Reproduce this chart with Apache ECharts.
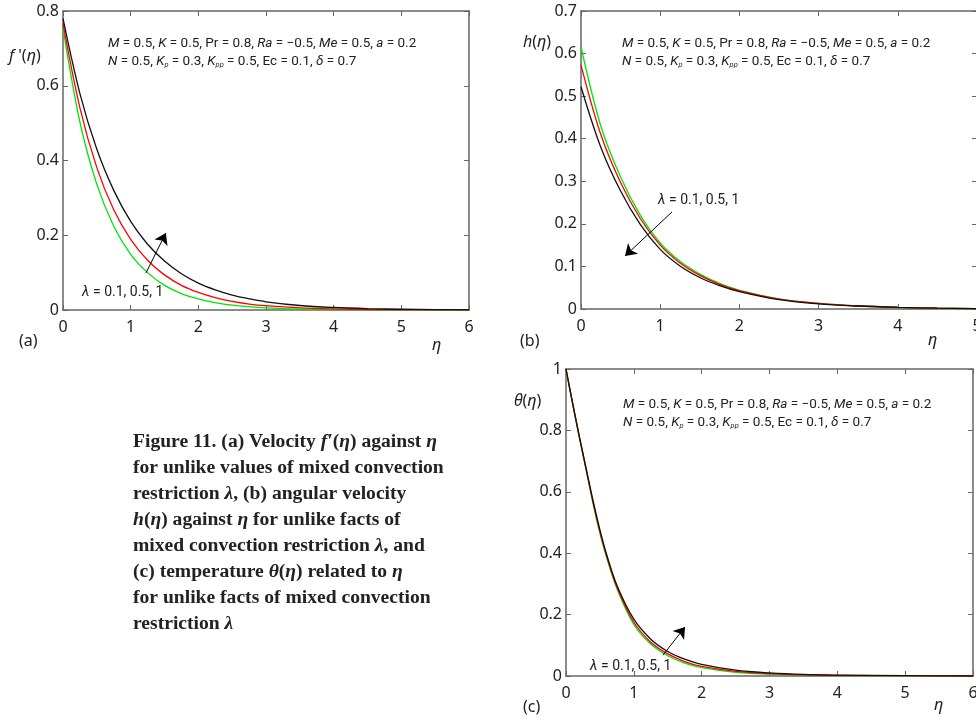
<!DOCTYPE html>
<html>
<head>
<meta charset="utf-8">
<script src="https://cdn.jsdelivr.net/npm/echarts@6/dist/echarts.min.js"></script>
<style>
  html, body { margin: 0; padding: 0; background: #fff; }
  #chart { width: 976px; height: 718px; }
</style>
</head>
<body>
<div id="chart"></div>
<script>
// ---------- DATA ----------
// (a) velocity f'(eta)
const etaA = [0, 0.25, 0.5, 0.75, 1, 1.25, 1.5, 1.75, 2, 2.25, 2.5, 2.75, 3, 3.5, 4, 4.5, 5, 5.5, 6];
const fA_lam01 = [0.754, 0.503, 0.336, 0.224, 0.149, 0.100, 0.066, 0.044, 0.030, 0.020, 0.013, 0.0088, 0.0058, 0.0026, 0.0012, 0.0005, 0.0002, 0.0001, 0];
const fA_lam05 = [0.767, 0.541, 0.381, 0.268, 0.189, 0.133, 0.094, 0.066, 0.047, 0.033, 0.023, 0.016, 0.0115, 0.0057, 0.0028, 0.0014, 0.0007, 0.0003, 0.0002];
const fA_lam1  = [0.780, 0.579, 0.430, 0.320, 0.237, 0.176, 0.131, 0.097, 0.072, 0.054, 0.040, 0.030, 0.022, 0.012, 0.0067, 0.0037, 0.0020, 0.0011, 0.0006];

// (b) angular velocity h(eta)
const etaB = [0, 0.25, 0.5, 0.75, 1, 1.25, 1.5, 1.75, 2, 2.5, 3, 3.5, 4, 4.5, 5];
const hB_lam01 = [0.616, 0.43, 0.31, 0.22, 0.155, 0.112, 0.082, 0.060, 0.044, 0.024, 0.013, 0.007, 0.004, 0.002, 0.001];
const hB_lam05 = [0.573, 0.41, 0.297, 0.212, 0.150, 0.108, 0.079, 0.058, 0.043, 0.023, 0.013, 0.007, 0.004, 0.002, 0.001];
const hB_lam1  = [0.522, 0.38, 0.277, 0.198, 0.140, 0.101, 0.074, 0.055, 0.041, 0.022, 0.012, 0.007, 0.004, 0.002, 0.001];

// (c) temperature theta(eta)
const etaC = [0, 0.1, 0.2, 0.3, 0.4, 0.5, 0.6, 0.75, 1, 1.25, 1.5, 1.75, 2, 2.5, 3, 3.5, 4, 5, 6];
const tC_lam01 = [1, 0.884, 0.773, 0.667, 0.560, 0.465, 0.385, 0.285, 0.168, 0.104, 0.066, 0.042, 0.027, 0.012, 0.006, 0.003, 0.0015, 0.0005, 0];
const tC_lam05 = [1, 0.885, 0.775, 0.670, 0.565, 0.470, 0.390, 0.290, 0.175, 0.110, 0.072, 0.047, 0.031, 0.015, 0.008, 0.004, 0.002, 0.001, 0];
const tC_lam1  = [1, 0.886, 0.777, 0.673, 0.570, 0.476, 0.395, 0.296, 0.185, 0.120, 0.080, 0.055, 0.038, 0.019, 0.010, 0.005, 0.003, 0.001, 0];

// axis ranges / ticks
const axisA = { xmax: 6, xint: 1, ymax: 0.8, yint: 0.2 };
const axisB = { xmax: 5, xint: 1, ymax: 0.7, yint: 0.1 };
const axisC = { xmax: 6, xint: 1, ymax: 1, yint: 0.2 };

// arrow annotations (data coordinates: [eta, value])
const arrowA = [[1.226, 0.099], [1.52, 0.206]];
const arrowB = [[1.149, 0.228], [0.556, 0.1245]];
const arrowC = [[1.43, 0.068], [1.755, 0.16]];

// ---------- STYLES ----------
const lineColor = '#666';
const tickFont = 'Noto Sans';
const COLORS = { l01: '#00e600', l05: '#ff0000', l1: '#111111' };

function pairs(xs, ys) { return xs.map((x, i) => [x, ys[i]]); }

function xAxes(gridIndex, ax) {
  const base = {
    gridIndex, type: 'value', min: 0, max: ax.xmax, interval: ax.xint,
    axisLine: { show: true, onZero: false, lineStyle: { color: lineColor, width: 1.5 } },
    axisTick: { show: true, inside: true, length: 5, lineStyle: { color: lineColor, width: 1 } },
    splitLine: { show: false }
  };
  return [
    Object.assign({}, base, { position: 'bottom',
      axisLabel: { show: true, margin: 9, color: '#222', fontSize: 16, fontFamily: tickFont } }),
    Object.assign({}, base, { position: 'top', axisLabel: { show: false } })
  ];
}
function yAxes(gridIndex, ax) {
  const base = {
    gridIndex, type: 'value', min: 0, max: ax.ymax, interval: ax.yint,
    axisLine: { show: true, onZero: false, lineStyle: { color: lineColor, width: 1.5 } },
    axisTick: { show: true, inside: true, length: 5, lineStyle: { color: lineColor, width: 1 } },
    splitLine: { show: false }
  };
  return [
    Object.assign({}, base, { position: 'left',
      axisLabel: { show: true, margin: 4, color: '#222', fontSize: 16, fontFamily: tickFont,
        formatter: v => (Math.abs(v) < 1e-9 ? '0' : (Math.abs(v - Math.round(v)) < 1e-9 ? String(Math.round(v)) : v.toFixed(1))) } }),
    Object.assign({}, base, { position: 'right', axisLabel: { show: false } })
  ];
}

function curve(name, xi, yi, xs, ys, color, arrow) {
  const s = {
    name, type: 'line', xAxisIndex: xi, yAxisIndex: yi,
    data: pairs(xs, ys), showSymbol: false, smooth: 0.35,
    lineStyle: { color, width: 1.3 }, itemStyle: { color }, silent: true, z: 3
  };
  if (arrow) {
    s.markLine = {
      silent: true, symbol: ['none', 'arrow'], symbolSize: 11,
      lineStyle: { color: '#000', width: 1, type: 'solid' },
      label: { show: false },
      data: [[{ coord: arrow[0] }, { coord: arrow[1] }]]
    };
  }
  return s;
}

// ---------- TEXT ----------
const annoFont = 'Roboto';
const annoSize = 13.5;
const rich = {
  i: { fontStyle: 'italic', fontFamily: annoFont, fontSize: annoSize, fill: '#222' },
  s: { fontStyle: 'italic', fontFamily: annoFont, fontSize: 7.5, fill: '#222', verticalAlign: 'bottom', padding: [7, 0, 0, 0] }
};
const annoLine1 = '{i|M} = 0.5, {i|K} = 0.5, Pr = 0.8, {i|Ra} = −0.5, {i|Me} = 0.5, {i|a} = 0.2';
const annoLine2 = '{i|N} = 0.5, {i|K}{s|p} = 0.3, {i|K}{s|pp} = 0.5, Ec = 0.1, {i|δ} = 0.7';
const lamText = '{l|λ} = 0.1, 0.5, 1';

function txt(x, y, text, opts) {
  return {
    type: 'text', x, y, silent: true,
    style: Object.assign({ text, fill: '#222', fontFamily: annoFont, fontSize: annoSize,
      textVerticalAlign: 'middle', rich: Object.assign({}, rich, { l: { fontStyle: 'italic', fontFamily: annoFont, fontSize: 14, fill: '#222' } }) }, opts || {})
  };
}
function anno(x, y1, y2) {
  return [txt(x, y1, annoLine1), txt(x, y2, annoLine2)];
}

const capRich = {
  i: { fontStyle: 'italic', fontWeight: 'bold', fontFamily: 'Liberation Serif', fontSize: 19.6, fill: '#222' }
};
const captionLines = [
  'Figure 11. (a) Velocity {i|f′}({i|η}) against {i|η}',
  'for unlike values of mixed convection',
  'restriction {i|λ}, (b) angular velocity',
  '{i|h}({i|η}) against {i|η} for unlike facts of',
  'mixed convection restriction {i|λ}, and',
  '(c) temperature {i|θ}({i|η}) related to {i|η}',
  'for unlike facts of mixed convection',
  'restriction {i|λ}'
];

const labelRich = {
  i: { fontStyle: 'italic', fontFamily: 'Noto Sans', fontSize: 16, fill: '#222' }
};
function lbl(x, y, text) {
  return { type: 'text', x, y, silent: true,
    style: { text, fill: '#222', fontFamily: 'Noto Sans', fontSize: 16, textVerticalAlign: 'middle', rich: labelRich } };
}

const graphics = [].concat(
  anno(108, 44, 62),
  anno(622, 44, 62),
  anno(623, 405, 423),
  [
    txt(82, 292, lamText, { fontSize: 14 }),
    txt(658, 200, lamText, { fontSize: 14 }),
    txt(590, 666, lamText, { fontSize: 14 }),
    lbl(9, 56, '{i|f} \'({i|η})'),
    lbl(523, 42, '{i|h}({i|η})'),
    lbl(514, 401, '{i|θ}({i|η})'),
    lbl(19, 341, '(a)'),
    lbl(520, 341, '(b)'),
    lbl(523, 707, '(c)'),
    lbl(432, 345, '{i|η}'),
    lbl(928, 340, '{i|η}'),
    lbl(934, 705, '{i|η}')
  ],
  captionLines.map((t, k) => ({
    type: 'text', x: 133, y: 442 + k * 26, silent: true,
    style: { text: t, fill: '#222', fontFamily: 'Liberation Serif', fontWeight: 'bold', fontSize: 19.6,
      textVerticalAlign: 'middle', rich: capRich }
  }))
);

const option = {
  animation: false,
  backgroundColor: '#ffffff',
  grid: [
    { left: 63, top: 11, width: 406, height: 299, outerBoundsMode: 'none', containLabel: false },
    { left: 581, top: 11, width: 396, height: 298, outerBoundsMode: 'none', containLabel: false },
    { left: 566, top: 369, width: 407, height: 307, outerBoundsMode: 'none', containLabel: false }
  ],
  xAxis: [].concat(xAxes(0, axisA), xAxes(1, axisB), xAxes(2, axisC)),
  yAxis: [].concat(yAxes(0, axisA), yAxes(1, axisB), yAxes(2, axisC)),
  series: [
    curve('λ = 0.1', 0, 0, etaA, fA_lam01, COLORS.l01),
    curve('λ = 0.5', 0, 0, etaA, fA_lam05, COLORS.l05),
    curve('λ = 1', 0, 0, etaA, fA_lam1, COLORS.l1, arrowA),
    curve('λ = 0.1', 2, 2, etaB, hB_lam01, COLORS.l01),
    curve('λ = 0.5', 2, 2, etaB, hB_lam05, COLORS.l05),
    curve('λ = 1', 2, 2, etaB, hB_lam1, COLORS.l1, arrowB),
    curve('λ = 0.1', 4, 4, etaC, tC_lam01, COLORS.l01),
    curve('λ = 0.5', 4, 4, etaC, tC_lam05, COLORS.l05),
    curve('λ = 1', 4, 4, etaC, tC_lam1, COLORS.l1, arrowC)
  ],
  graphic: graphics
};

const chart = echarts.init(document.getElementById('chart'), null, { renderer: 'canvas' });
chart.setOption(option);
</script>
</body>
</html>
